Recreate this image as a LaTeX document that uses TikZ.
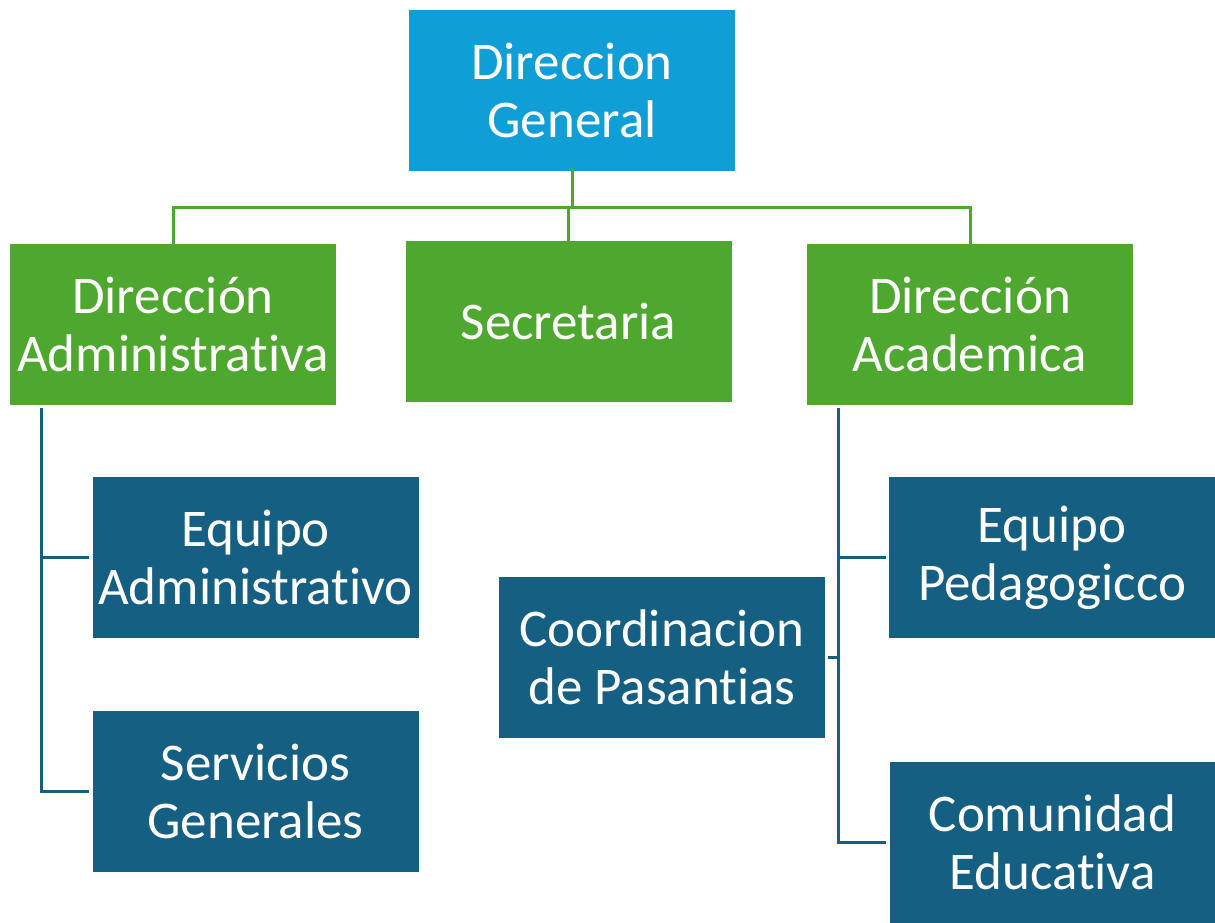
\documentclass[tikz,border=0pt]{standalone}
\usepackage{fontspec}
\setmainfont[Ligatures={NoCommon,NoRare,NoContextual}]{Carlito}
\definecolor{dgblue}{HTML}{0F9ED5}
\definecolor{ogreen}{HTML}{4EA72E}
\definecolor{dblue}{HTML}{156082}
\begin{document}
\begin{tikzpicture}[x=1pt,y=-1pt,
  box/.style={minimum width=326pt,minimum height=161pt,inner sep=0pt,text=white,align=center,
    font=\fontsize{53}{58}\selectfont},
  lvl0/.style={box,fill=dgblue},
  lvl1/.style={box,fill=ogreen},
  lvl2/.style={box,fill=dblue},
  gline/.style={draw=ogreen,line width=3pt},
  bline/.style={draw=dblue,line width=3pt}]
\useasboundingbox[fill=white] (0,0) rectangle (1215,922);
\node[lvl0] (dg) at (572,90.5) {Direccion\\General};
\node[lvl1] (da) at (173,324) {Dirección\\Administrativa};
\node[lvl1] (sec) at (568.5,321) {Secretaria};
\node[lvl1] (dac) at (970,324) {Dirección\\Academica};
\node[lvl2] (ea) at (255.5,557.5) {Equipo\\Administrativo};
\node[lvl2] (sg) at (255.5,791.5) {Servicios\\Generales};
\node[lvl2] (ep) at (1052,557.5) {Equipo\\Pedagogicco};
\node[lvl2] (cp) at (662,657) {Coordinacion\\de Pasantias};
\node[lvl2] (ce) at (1052.5,842) {Comunidad\\Educativa};
\coordinate (bus) at (572,207);
\draw[gline] ([yshift=3pt]dg.south) -- (dg.south |- bus);
\draw[gline] ([yshift=-3pt]da.north) |- (dac.north |- bus) -- ([yshift=-3pt]dac.north);
\draw[gline] ([yshift=-3pt]sec.north) -- (sec.north |- bus);
\coordinate (lt) at (41,408);
\draw[bline] (lt) |- ([xshift=-3pt]sg.west);
\draw[bline] (lt |- ea.west) -- ([xshift=-3pt]ea.west);
\coordinate (rt) at (838,408);
\draw[bline] (rt) |- ([xshift=-3pt]ce.west);
\draw[bline] (rt |- ep.west) -- ([xshift=-3pt]ep.west);
\draw[bline] ([xshift=3pt]cp.east) -- (rt |- cp.east);
\end{tikzpicture}
\end{document}
